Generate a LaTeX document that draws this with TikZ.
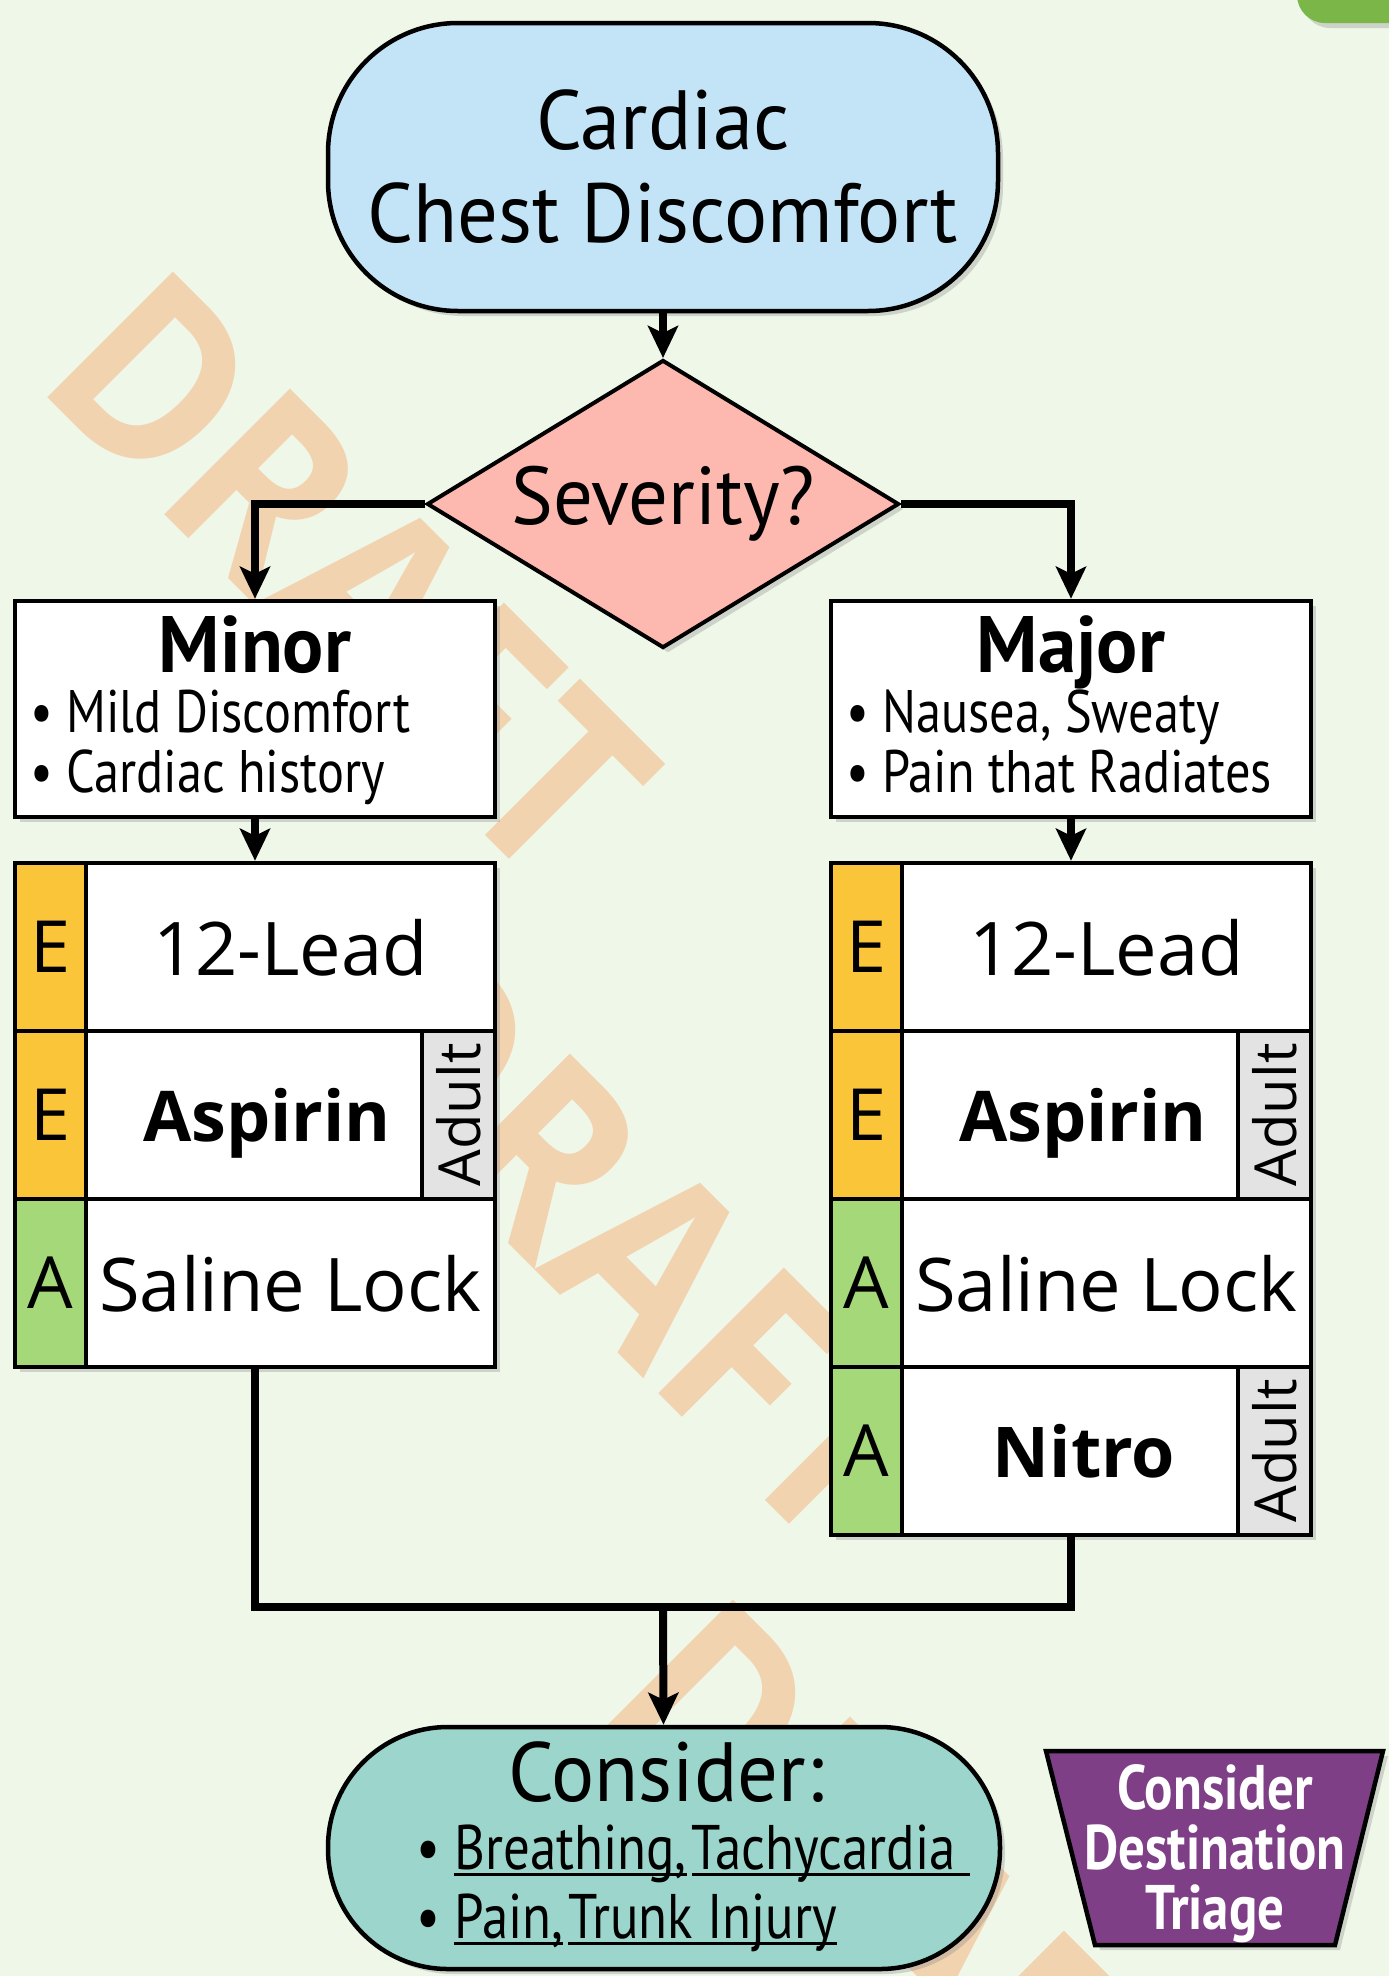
\documentclass[tikz,border=0pt]{standalone}
\usepackage{fontspec}
\setmainfont{PT Sans}[FakeStretch=0.84]
\newfontfamily\titlefont{PT Sans}[FakeStretch=0.96]
\newfontfamily\wide{Open Sans}
\newfontfamily\wmfont{Open Sans}[FakeStretch=0.9]
\usetikzlibrary{arrows.meta,shapes.geometric,shadows}

\definecolor{bgcol}{HTML}{EFF7E9}
\definecolor{startblue}{HTML}{C2E4F6}
\definecolor{sevpink}{HTML}{FDB9AF}
\definecolor{emtyellow}{HTML}{FBC53A}
\definecolor{aemtgreen}{HTML}{A5D879}
\definecolor{adultgray}{HTML}{E3E3E3}
\definecolor{endteal}{HTML}{9BD5CB}
\definecolor{triagepurple}{HTML}{7F3F87}
\definecolor{wmorange}{HTML}{F2D3B0}
\definecolor{cornergreen}{HTML}{7AB648}

% underlined link text
\newcommand\lnk[1]{\setbox0\hbox{#1}\rlap{\rule[-7pt]{\wd0}{3pt}}\box0\relax}

\tikzset{
  shade/.style={drop shadow={shadow xshift=5pt, shadow yshift=-5pt, opacity=.3}},
  term/.style={draw, line width=4.5pt, inner sep=0pt, align=center, shade},
  box/.style={draw, line width=4.5pt, fill=white, inner sep=0pt, shade},
  flow/.style={line width=8pt, -{Stealth[length=32pt, width=30pt, inset=7pt]}},
  link/.style={line width=8pt},
  head/.style={anchor=base, inner sep=0pt, font=\titlefont\bfseries\fontsize{80}{80}\selectfont},
  item/.style={anchor=base west, inner sep=0pt, font=\fontsize{60}{60}\selectfont},
  tab/.style={draw, line width=4.5pt, inner sep=0pt, minimum width=71pt, minimum height=168pt,
    text depth=0pt, font=\wide\fontsize{72}{72}\selectfont, shade},
  cell/.style={draw, line width=4.5pt, fill=white, inner sep=0pt, minimum height=168pt,
    text depth=0pt, font=\wide\fontsize{74}{74}\selectfont, shade},
  drug/.style={cell, minimum width=336pt, font=\wide\bfseries\fontsize{70}{70}\selectfont},
  adult/.style={draw, line width=4.5pt, fill=adultgray, inner sep=0pt, rotate=90,
    minimum width=168pt, minimum height=73pt, text depth=0pt,
    font=\wide\fontsize{58}{58}\selectfont, shade},
  wmark/.style={anchor=base west, inner sep=0pt, rotate=-45, text=wmorange,
    font=\wmfont\bfseries\fontsize{249}{249}\selectfont}
}

\begin{document}
\begin{tikzpicture}[x=1pt, y=-1pt]
  \useasboundingbox (0,0) rectangle (1389,1976);
  \fill[bgcol] (0,0) rectangle (1389,1976);
  \clip (0,0) rectangle (1389,1976);

  % Watermark
  \foreach \x/\y [count=\i] in {33/383, 313/1048, 593/1711}
    \node[wmark] (wm\i) at (\x,\y) {DRAFT};

  % Corner tab
  \fill[cornergreen, rounded corners=28pt, shade] (1297,-60) rectangle (1450,23);

  % Start and decision
  \node[term, fill=startblue, minimum width=670pt, minimum height=288pt, rounded corners=130pt,
    font=\titlefont\fontsize{84}{93}\selectfont] (start) at (663,167) {Cardiac\\Chest Discomfort};
  \node[diamond, draw, fill=sevpink, line width=4pt, aspect=1.64, inner sep=0pt,
    minimum width=472pt, minimum height=288pt, shade,
    font=\titlefont\fontsize{82}{82}\selectfont] (sev) at (663,504) {Severity?};

  % Minor / Major boxes
  \node[box, minimum width=480pt, minimum height=216pt] (minor) at (255,709) {};
  \node[head] (minorhd) at (255,672) {Minor};
  \node[item] (minor1) at (30,732) {\textbullet\ Mild Discomfort};
  \node[item] (minor2) at (30,792) {\textbullet\ Cardiac history};

  \node[box, minimum width=480pt, minimum height=216pt] (major) at (1071,709) {};
  \node[head] (majorhd) at (1071,672) {Major};
  \node[item] (major1) at (846,732) {\textbullet\ Nausea, Sweaty};
  \node[item] (major2) at (846,792) {\textbullet\ Pain that Radiates};

  % Left stack
  \node[tab, fill=emtyellow] (le1) at (50.5,947) {E};
  \node[cell, minimum width=409pt] (lecg) at (290.5,947) {12-Lead};
  \node[tab, fill=emtyellow] (le2) at (50.5,1115) {E};
  \node[drug] (lasa) at (254,1115) {\hspace*{26pt}Aspirin};
  \node[adult] (lad1) at (458.5,1115) {Adult};
  \node[tab, fill=aemtgreen] (la3) at (50.5,1283) {A};
  \node[cell, minimum width=409pt] (lsal) at (290.5,1283) {Saline Lock};

  % Right stack
  \node[tab, fill=emtyellow] (re1) at (866.5,947) {E};
  \node[cell, minimum width=409pt] (recg) at (1106.5,947) {12-Lead};
  \node[tab, fill=emtyellow] (re2) at (866.5,1115) {E};
  \node[drug] (rasa) at (1070,1115) {\hspace*{26pt}Aspirin};
  \node[adult] (rad1) at (1274.5,1115) {Adult};
  \node[tab, fill=aemtgreen] (ra3) at (866.5,1283) {A};
  \node[cell, minimum width=409pt] (rsal) at (1106.5,1283) {Saline Lock};
  \node[tab, fill=aemtgreen] (ra4) at (866.5,1451) {A};
  \node[drug] (rnit) at (1070,1451) {\hspace*{28pt}Nitro};
  \node[adult] (rad2) at (1274.5,1451) {Adult};

  % Consider
  \node[term, fill=endteal, minimum width=672pt, minimum height=242pt, rounded corners=120pt]
    (cons) at (664,1848) {};
  \node[anchor=base, inner sep=0pt, font=\titlefont\fontsize{84}{84}\selectfont] (conshd) at (666,1801) {Consider:};
  \node[item, font=\fontsize{63}{63}\selectfont] (cons1) at (416,1869)
    {\textbullet\ \lnk{Breathing,}\hspace{5pt}\lnk{Tachycardia\ }};
  \node[item, font=\fontsize{63}{63}\selectfont] (cons2) at (416,1938)
    {\textbullet\ \lnk{Pain,}\hspace{5pt}\lnk{Trunk Injury}};

  % Destination triage
  \draw[fill=triagepurple, line width=4.5pt, shade] (1046,1751) -- (1383,1751) -- (1335,1945) -- (1095,1945) -- cycle;
  \node[align=center, text=white, inner sep=0pt, font=\bfseries\fontsize{63}{60}\selectfont]
    (triage) at (1215,1854) {Consider\\Destination\\Triage};

  % Connectors
  \coordinate (join) at (663,1607);
  \draw[flow] (start) -- (sev);
  \draw[flow] (sev.west) -| (minor.north);
  \draw[flow] (sev.east) -| (major.north);
  \draw[flow] (minor.south) -- (lecg.north -| minor.south);
  \draw[flow] (major.south) -- (recg.north -| major.south);
  \draw[link] (lsal.south -| minor.south) |- (join) -| (rnit.south -| major.south);
  \draw[flow] (join) -- (cons);
\end{tikzpicture}
\end{document}
